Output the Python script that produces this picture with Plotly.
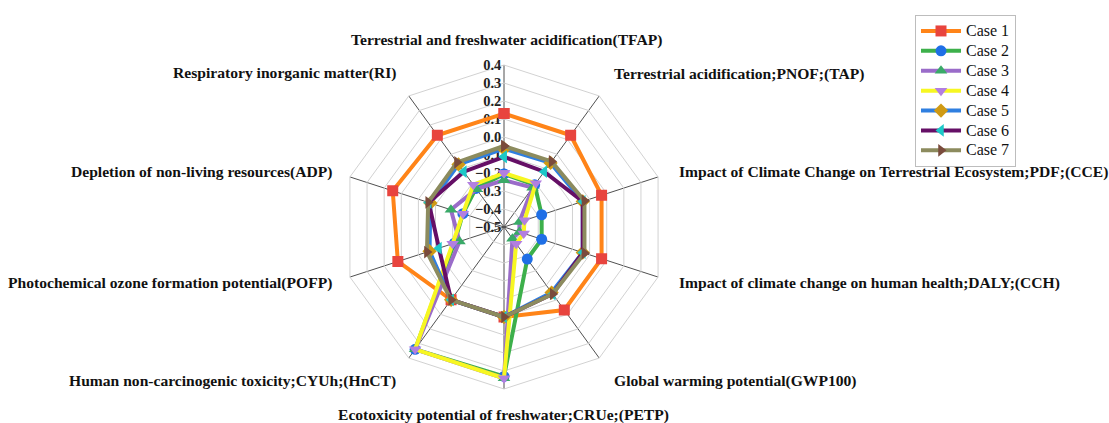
import plotly.graph_objects as go

W, H = 1109, 423

# Impact categories (clockwise from top)
categories = [
    "Terrestrial and freshwater acidification(TFAP)",
    "Terrestrial acidification;PNOF;(TAP)",
    "Impact of Climate Change on Terrestrial Ecosystem;PDF;(CCE)",
    "Impact of climate change on human health;DALY;(CCH)",
    "Global warming potential(GWP100)",
    "Ecotoxicity potential of freshwater;CRUe;(PETP)",
    "Human non-carcinogenic toxicity;CYUh;(HnCT)",
    "Photochemical ozone formation potential(POFP)",
    "Depletion of non-living resources(ADP)",
    "Respiratory inorganic matter(RI)",
]

case1 = [0.13, 0.13, 0.07, 0.07, 0.07, 0.0, 0.0, 0.12, 0.15, 0.13]
case2 = [-0.205, -0.21, -0.28, -0.28, -0.28, 0.33, 0.34, -0.21, -0.26, -0.235]
case3 = [-0.24, -0.23, -0.41, -0.41, -0.42, 0.34, 0.34, -0.24, -0.19, -0.24]
case4 = [-0.20, -0.20, -0.38, -0.385, -0.385, 0.34, 0.34, -0.20, -0.26, -0.21]
case5 = [-0.065, -0.06, -0.04, -0.04, -0.05, 0.0, 0.0, -0.065, -0.07, -0.07]
case6 = [-0.11, -0.12, -0.04, -0.04, -0.04, 0.0, 0.0, -0.12, -0.06, -0.12]
case7 = [-0.05, -0.05, -0.03, -0.03, -0.04, 0.0, 0.0, -0.05, -0.057, -0.056]

series_names = ["Case 1", "Case 2", "Case 3", "Case 4", "Case 5", "Case 6", "Case 7"]
series_values = [case1, case2, case3, case4, case5, case6, case7]
line_colors = ["#FF8418", "#3DB04B", "#9A6CC9", "#F7F722", "#2F7FE0", "#650F66", "#8C8B5E"]
marker_colors = ["#E8443E", "#1F6FE6", "#3AAA68", "#B27FE0", "#D09A14", "#1CC8C8", "#7A4B3C"]
marker_symbols = ["square", "circle", "triangle-up", "triangle-down", "diamond",
                  "triangle-left", "triangle-right"]

radial_ticks = [0.4, 0.3, 0.2, 0.1, 0.0, -0.1, -0.2, -0.3, -0.4, -0.5]

serif = "Times New Roman, Liberation Serif, serif"

fig = go.Figure()
for name, vals, lc, mc, sym in zip(series_names, series_values, line_colors,
                                   marker_colors, marker_symbols):
    fig.add_trace(go.Scatterpolar(
        r=vals + vals[:1],
        theta=categories + categories[:1],
        name=f'<span style="font-size:16px">{name}</span>',
        mode="lines+markers",
        line=dict(color=lc, width=4),
        marker=dict(color=mc, symbol=sym, size=11),
        # clip to the polygon instead of per-point range filtering
        cliponaxis=True,
    ))

# polar area: centre (504, 227), radius 162 px
cx, cy, R = 504, 227, 162
fig.update_layout(
    width=W, height=H,
    margin=dict(l=0, r=0, t=0, b=0),
    paper_bgcolor="white",
    plot_bgcolor="white",
    polar=dict(
        domain=dict(x=[(cx - R) / W, (cx + R) / W],
                    y=[1 - (cy + R) / H, 1 - (cy - R) / H]),
        bgcolor="white",
        gridshape="linear",
        radialaxis=dict(
            range=[-0.5, 0.4],
            tickvals=radial_ticks,
            tickformat=".1f",
            angle=90,
            tickangle=90,
            side="counterclockwise",
            showline=False,
            ticks="",
            gridcolor="#D2D2D2",
            gridwidth=1,
            layer="below traces",
            tickfont=dict(family=serif, size=14.5, color="#222", weight="bold"),
        ),
        angularaxis=dict(
            direction="clockwise",
            rotation=90,
            showticklabels=False,
            ticks="",
            gridcolor="#505050",
            gridwidth=1,
            showline=True,
            linecolor="#D2D2D2",
            linewidth=1,
            layer="below traces",
        ),
    ),
    legend=dict(
        x=915 / W, y=1 - 15 / H, xanchor="left", yanchor="top",
        bordercolor="#BDBDBD", borderwidth=1,
        font=dict(family=serif, size=13, color="#111"),
        itemwidth=40, tracegroupgap=0,
        bgcolor="white",
    ),
    showlegend=True,
)

# category labels around the chart
label_pos = [
    (506, 40, "center"),
    (612, 74, "left"),
    (677, 172, "left"),
    (677, 283, "left"),
    (612, 381, "left"),
    (503, 415, "center"),
    (398, 381, "right"),
    (334, 283, "right"),
    (334, 172, "right"),
    (398, 73, "right"),
]
for text, (px, py, anchor) in zip(categories, label_pos):
    fig.add_annotation(
        x=px / W, y=1 - py / H, xref="paper", yref="paper",
        text=f"<b>{text}</b>", showarrow=False,
        xanchor=anchor, yanchor="middle",
        font=dict(family=serif, size=15.6, color="#111"),
    )

fig.write_html("out.html")
